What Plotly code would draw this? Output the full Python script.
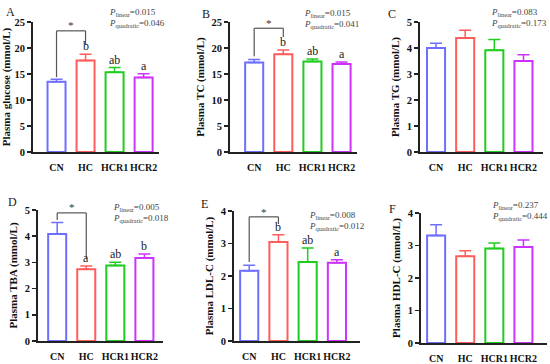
import plotly.graph_objects as go

groups = ["CN", "HC", "HCR1", "HCR2"]
colors = ["#6e6eff", "#ff5c5c", "#1fcc1f", "#cc33ff"]

panel_ids = ["A", "B", "C", "D", "E", "F"]
titles = ["Plasma glucose (mmol/L)", "Plasma TC (mmol/L)", "Plasma TG (mmol/L)",
          "Plasma TBA (mmol/L)", "Plasma LDL-C (mmol/L)", "Plasma HDL-C (mmol/L)"]

glucose_mean = [13.5, 17.6, 15.35, 14.35]
glucose_err = [0.5, 1.2, 0.9, 0.7]
tc_mean = [17.2, 18.8, 17.4, 16.9]
tc_err = [0.6, 0.8, 0.5, 0.4]
tg_mean = [4.0, 4.38, 3.91, 3.5]
tg_err = [0.18, 0.3, 0.42, 0.24]
tba_mean = [4.08, 2.74, 2.88, 3.17]
tba_err = [0.44, 0.12, 0.13, 0.15]
ldl_mean = [2.16, 3.05, 2.43, 2.41]
ldl_err = [0.17, 0.22, 0.43, 0.09]
hdl_mean = [3.31, 2.67, 2.91, 2.95]
hdl_err = [0.33, 0.17, 0.17, 0.22]

means = [glucose_mean, tc_mean, tg_mean, tba_mean, ldl_mean, hdl_mean]
errs = [glucose_err, tc_err, tg_err, tba_err, ldl_err, hdl_err]

letters = [
    ["", "b", "ab", "a"],
    ["", "b", "ab", "a"],
    ["", "", "", ""],
    ["", "a", "ab", "b"],
    ["", "b", "ab", "a"],
    ["", "", "", ""],
]

p_linear = ["0.015", "0.015", "0.083", "0.005", "0.008", "0.237"]
p_quadratic = ["0.046", "0.041", "0.173", "0.018", "0.012", "0.444"]

y_max = [25, 25, 5, 5, 4, 4]
y_dtick = [5, 5, 1, 1, 1, 1]

# significance brackets: (left_bottom, top, right_bottom, star_y) or None
brackets = [
    (14.4, 23.3, 20.6, 23.6),
    (18.4, 23.8, 22.1, 24.1),
    None,
    (4.62, 4.89, 3.13, 4.95),
    (2.43, 3.82, 3.6, 3.86),
    None,
]

# layout geometry (pixels)
W, H = 550, 364
x_px = [(33, 159), (230, 357), (420, 543), (38, 163), (234, 360), (421, 547)]
y_px = [(22, 152), (22, 152), (22, 152), (210, 341), (211, 341), (213, 343)]
x_ranges = [(-0.81, 3.53), (-0.83, 3.53), (-0.55, 3.67), (-0.66, 3.64), (-0.52, 3.79), (-0.52, 3.81)]
letter_pos = [(10, 12), (206, 14), (392, 14), (12, 202), (204, 204), (392, 209)]
p_pos = [(107, 13), (302, 14), (489, 13), (111, 207), (307, 215), (490, 205)]

serif = "Liberation Serif, Times New Roman, serif"

fig = go.Figure()
layout = dict(width=W, height=H, margin=dict(l=0, r=0, t=0, b=0), autosize=False,
              paper_bgcolor="white", plot_bgcolor="white", showlegend=False,
              font=dict(family=serif, color="#111"))
annotations = []
shapes = []

for i in range(6):
    n = "" if i == 0 else str(i + 1)
    xa, ya = "x" + n, "y" + n
    fig.add_trace(go.Bar(
        x=list(range(4)), y=means[i], width=0.62, textposition="none",
        marker=dict(color="white", line=dict(color=colors, width=2)),
        xaxis=xa, yaxis=ya, hoverinfo="skip"))
    # coloured error bars per bar
    for j in range(4):
        fig.add_trace(go.Scatter(
            x=[j], y=[means[i][j]], mode="none",
            error_y=dict(type="data", symmetric=False, array=[errs[i][j]], arrayminus=[0],
                         color=colors[j], thickness=1.5, width=6),
            xaxis=xa, yaxis=ya, hoverinfo="skip"))
    x0, x1 = x_px[i]
    yt, yb = y_px[i]
    layout["xaxis" + n] = dict(
        domain=[x0 / W, x1 / W], range=list(x_ranges[i]), anchor=ya,
        tickmode="array", tickvals=list(range(4)),
        ticktext=groups, tickangle=0, automargin=False,
        ticks="", showline=True, linecolor="#222", linewidth=2,
        showgrid=False, zeroline=False, ticklabelstandoff=5,
        tickfont=dict(family=serif, size=10, color="#111", weight="bold"), fixedrange=True)
    layout["yaxis" + n] = dict(
        domain=[1 - yb / H, 1 - yt / H], range=[0, y_max[i]], anchor=xa,
        dtick=y_dtick[i], tick0=0, ticks="outside", ticklen=4, tickwidth=1.5,
        tickcolor="#222", showline=True, linecolor="#222", linewidth=2,
        showgrid=False, zeroline=False, automargin=False,
        tickfont=dict(family=serif, size=10.5, color="#111", weight="bold"),
        tickformat="d",
        title=dict(text=titles[i], font=dict(family=serif, size=11, color="#111", weight="bold"),
                   standoff=5),
        fixedrange=True)
    # group letters
    for j in range(4):
        if letters[i][j]:
            annotations.append(dict(
                x=j, y=means[i][j] + errs[i][j], xref=xa, yref=ya, text=letters[i][j],
                showarrow=False, yanchor="bottom", yshift=-1,
                font=dict(family=serif, size=12, color="#222")))
    # bracket
    if brackets[i]:
        lb, top, rb, sy = brackets[i]
        for (xa0, ya0, xa1, ya1) in [(0, lb, 0, top), (0, top, 1, top), (1, top, 1, rb)]:
            shapes.append(dict(type="line", x0=xa0, y0=ya0, x1=xa1, y1=ya1, xref=xa, yref=ya,
                               line=dict(color="#555", width=1.2)))
        annotations.append(dict(x=0.5, y=sy, xref=xa, yref=ya, text="*", showarrow=False,
                                yanchor="bottom", yshift=-4,
                                font=dict(family=serif, size=11, color="#333")))
    # panel letter
    lx, ly = letter_pos[i]
    annotations.append(dict(x=lx / W, y=1 - ly / H, xref="paper", yref="paper",
                            text=panel_ids[i], showarrow=False, xanchor="center", yanchor="middle",
                            font=dict(family=serif, size=12, color="#222")))
    # P-values
    px, py = p_pos[i]
    annotations.append(dict(x=px / W, y=1 - py / H, xref="paper", yref="paper",
                            text="<i>P</i><sub>linear</sub>=%s" % p_linear[i], showarrow=False,
                            xanchor="left", yanchor="middle",
                            font=dict(family=serif, size=9, color="#444")))
    annotations.append(dict(x=px / W, y=1 - (py + 11) / H, xref="paper", yref="paper",
                            text="<i>P</i><sub>quadratic</sub>=%s" % p_quadratic[i], showarrow=False,
                            xanchor="left", yanchor="middle",
                            font=dict(family=serif, size=9, color="#444")))

layout["annotations"] = annotations
layout["shapes"] = shapes
fig.update_layout(**layout)
fig.write_html("out.html", config={"displayModeBar": False, "staticPlot": True},
               post_script="document.body.style.margin='0';document.body.style.padding='0';")
